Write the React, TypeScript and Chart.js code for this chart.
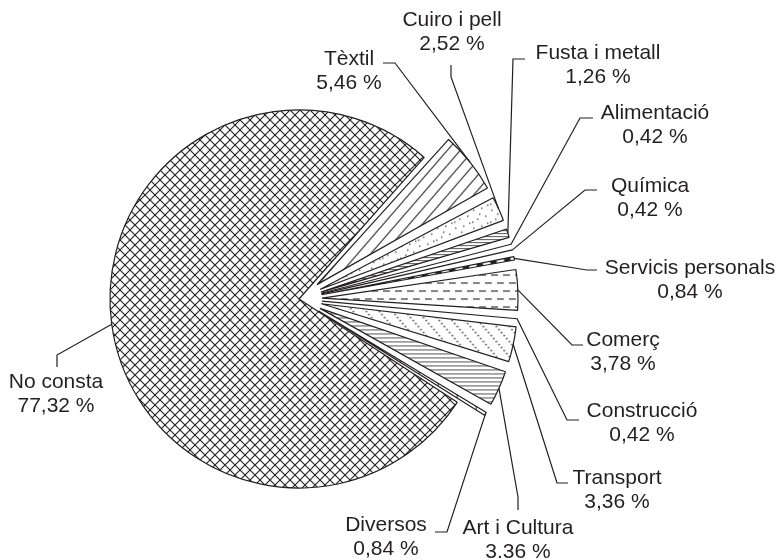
import React, { useEffect, useRef } from "react";
import { Chart, registerables } from "chart.js";

Chart.register(...registerables);

// ---- data (clockwise, starting with Tèxtil) ----
const categories = [
  "Tèxtil",
  "Cuiro i pell",
  "Fusta i metall",
  "Alimentació",
  "Química",
  "Servicis personals",
  "Comerç",
  "Construcció",
  "Transport",
  "Art i Cultura",
  "Diversos",
  "No consta",
];
const shares = [5.46, 2.52, 1.26, 0.42, 0.42, 0.84, 3.78, 0.42, 3.36, 3.36, 0.84, 77.32];
const valueLabels = [
  "5,46 %", "2,52 %", "1,26 %", "0,42 %", "0,42 %", "0,84 %",
  "3,78 %", "0,42 %", "3,36 %", "3.36 %", "0,84 %", "77,32 %",
];

// ---- styling / layout (not data) ----
const patternKinds = [
  "diag", "stipple", "hlinesDense", "white", "darkLines", "bigdots",
  "dashes", "darkLines", "dotdiag", "hlines", "ticks", "cross",
];
const alignToSlice = patternKinds.map((k) => k === "bigdots");
const explodeOffsets = [92, 92, 92, 92, 92, 92, 92, 92, 92, 92, 92, 0];
const RADIUS = 189;
const RADIUS_GAIN = 7; // exploded slices reach a bit further out
const INK = "#231f20";

// [textX, textY, elbowX, elbowY, stubEndX, stubEndY]
const labelLayout: number[][] = [
  [349, 59, 395, 63, 383, 63],
  [452, 20, 451, 77, 451, 65],
  [598, 53, 513, 59, 525, 59],
  [655, 113, 580, 118, 593, 118],
  [650, 186, 585, 190, 597, 190],
  [690, 268, 587, 270, 597, 270],
  [623, 340, 572, 345, 583, 345],
  [642, 411, 567, 420, 579, 420],
  [617, 478, 557, 483, 568, 483],
  [518, 528, 518, 497, 518, 510],
  [386, 525, 447, 532, 435, 532],
  [56, 382, 57, 355, 57, 367],
];

function makePattern(kind: string): CanvasPattern | string {
  const c = document.createElement("canvas");
  const g = c.getContext("2d") as CanvasRenderingContext2D;
  const init = (w: number, h: number) => {
    c.width = w;
    c.height = h;
    g.fillStyle = "#ffffff";
    g.fillRect(0, 0, w, h);
    g.strokeStyle = INK;
    g.fillStyle = INK;
    g.lineWidth = 1;
  };
  const line = (x1: number, y1: number, x2: number, y2: number) => {
    g.beginPath();
    g.moveTo(x1, y1);
    g.lineTo(x2, y2);
    g.stroke();
  };
  switch (kind) {
    case "cross": {
      const s = 10;
      init(s, s);
      g.lineWidth = 1.1;
      for (const k of [-s, 0, s]) {
        line(k, 0, k + s, s);
        line(k, s, k + s, 0);
      }
      break;
    }
    case "diag": {
      const w = 13, h = 15;
      init(w, h);
      g.lineWidth = 1.1;
      for (const k of [-w, 0, w]) line(k, h, k + w, 0);
      break;
    }
    case "dotdiag": {
      const w = 13, h = 15;
      init(w, h);
      for (let i = 0; i < 5; i++) {
        const x = (i * w) / 5;
        const y = (i * h) / 5;
        g.fillRect(x, y, 1.4, 1.4);
      }
      break;
    }
    case "stipple": {
      init(18, 18);
      g.fillStyle = "#444";
      const pts = [[2, 3], [10, 1], [14, 9], [6, 12], [16, 16], [1, 15], [8, 7]];
      for (const [x, y] of pts) g.fillRect(x, y, 1.5, 1.2);
      break;
    }
    case "hlinesDense": {
      init(8, 3);
      g.strokeStyle = "#555";
      line(0, 0.5, 8, 0.5);
      break;
    }
    case "hlines": {
      init(8, 4.5);
      g.strokeStyle = "#555";
      line(0, 0.5, 8, 0.5);
      break;
    }
    case "darkLines": {
      init(4, 2);
      g.strokeStyle = "#333";
      line(0, 0.5, 4, 0.5);
      break;
    }
    case "bigdots": {
      init(14, 20);
      g.beginPath();
      g.arc(7, 10, 3.4, 0, Math.PI * 2);
      g.fill();
      break;
    }
    case "dashes": {
      init(12, 16);
      g.strokeStyle = "#333";
      g.lineWidth = 1.2;
      line(0, 4, 7, 4);
      line(6, 12, 12, 12);
      line(0, 12, 1, 12);
      break;
    }
    case "ticks": {
      init(19, 10);
      line(0.5, 0, 0.5, 10);
      break;
    }
    default:
      return "#ffffff";
  }
  const p = g.createPattern(c, "repeat");
  return p || "#ffffff";
}

const evenExplosion = {
  id: "evenExplosion",
  afterDatasetUpdate(chart: any) {
    const meta = chart.getDatasetMeta(0);
    meta.data.forEach((arc: any) => {
      const t = ((arc.options && arc.options.offset) || 0) / 4;
      if (!t) return;
      const fix = 1 - Math.sin(Math.min(Math.PI, arc.endAngle - arc.startAngle));
      arc.outerRadius = arc.outerRadius + RADIUS_GAIN - t * fix;
    });
  },
  beforeDatasetsDraw(chart: any) {
    // orient point patterns along their slice so the row of dots follows it
    const meta = chart.getDatasetMeta(0);
    meta.data.forEach((arc: any, i: number) => {
      const bg = arc.options && arc.options.backgroundColor;
      if (!alignToSlice[i] || !bg || typeof bg.setTransform !== "function") return;
      const mid = (arc.startAngle + arc.endAngle) / 2;
      const m = new DOMMatrix()
        .translateSelf(arc.x, arc.y)
        .rotateSelf((mid * 180) / Math.PI)
        .translateSelf(0, -10);
      bg.setTransform(m);
    });
  },
};

const leaderLabels = {
  id: "leaderLabels",
  afterDatasetsDraw(chart: any) {
    const ctx: CanvasRenderingContext2D = chart.ctx;
    const meta = chart.getDatasetMeta(0);
    ctx.save();
    ctx.strokeStyle = INK;
    ctx.lineWidth = 1.2;
    ctx.fillStyle = INK;
    ctx.font = "21px 'Liberation Sans', Arial, sans-serif";
    ctx.textAlign = "center";
    ctx.textBaseline = "middle";
    meta.data.forEach((arc: any, i: number) => {
      const mid = (arc.startAngle + arc.endAngle) / 2;
      const t = ((arc.options && arc.options.offset) || 0) / 4;
      const fix = 1 - Math.sin(Math.min(Math.PI, arc.endAngle - arc.startAngle));
      const r = arc.outerRadius + t * fix;
      const ax = arc.x + Math.cos(mid) * (t + r);
      const ay = arc.y + Math.sin(mid) * (t + r);
      const [tx, ty, ex, ey, sx, sy] = labelLayout[i];
      ctx.beginPath();
      ctx.moveTo(ax, ay);
      ctx.lineTo(ex, ey);
      ctx.lineTo(sx, sy);
      ctx.stroke();
      ctx.fillText(categories[i], tx, ty);
      ctx.fillText(valueLabels[i], tx, ty + 24);
    });
    ctx.restore();
  },
};

export default function App() {
  const ref = useRef<HTMLCanvasElement | null>(null);
  useEffect(() => {
    if (!ref.current) return;
    const chart = new Chart(ref.current, {
      type: "pie",
      data: {
        labels: categories,
        datasets: [
          {
            data: shares,
            backgroundColor: patternKinds.map(makePattern) as any,
            borderColor: INK,
            borderWidth: 1.2,
            offset: explodeOffsets,
          },
        ],
      },
      options: {
        responsive: false,
        animation: false,
        events: [],
        rotation: 41.5,
        radius: RADIUS,
        layout: { padding: { left: 0, right: 182, top: 38, bottom: 0 } },
        plugins: {
          legend: { display: false },
          tooltip: { enabled: false },
          title: { display: false },
        },
      } as any,
      plugins: [evenExplosion, leaderLabels],
    });
    return () => chart.destroy();
  }, []);
  return (
    <div style={{ position: "fixed", left: 0, top: 0, width: 780, height: 560, background: "#fff" }}>
      <canvas ref={ref} width={780} height={560} style={{ display: "block" }} />
    </div>
  );
}
